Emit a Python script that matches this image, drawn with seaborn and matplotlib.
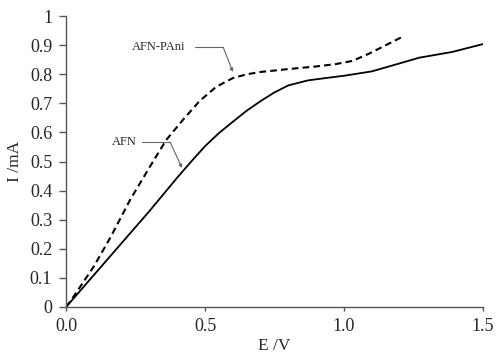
import matplotlib
matplotlib.use("Agg")
import matplotlib.pyplot as plt
import seaborn as sns
import pandas as pd

# AFN (solid)
afn_E = [0.0, 0.1, 0.2, 0.3, 0.4, 0.45, 0.5, 0.55, 0.6, 0.65, 0.7, 0.75, 0.8, 0.87, 0.95,
         1.0, 1.1, 1.18, 1.27, 1.39, 1.5]
afn_I = [0.0, 0.11, 0.22, 0.33, 0.445, 0.50, 0.553, 0.598, 0.637, 0.675, 0.708, 0.738, 0.762,
         0.779, 0.789, 0.795, 0.81, 0.832, 0.857, 0.877, 0.904]
# AFN-PAni (dashed)
pani_E = [0.0, 0.03, 0.1, 0.16, 0.23, 0.3, 0.36, 0.42, 0.48, 0.54, 0.6, 0.65, 0.7, 0.8, 0.9,
          0.97, 1.03, 1.09, 1.15, 1.21]
pani_I = [0.0, 0.04, 0.14, 0.24, 0.368, 0.48, 0.574, 0.643, 0.708, 0.757, 0.787, 0.800, 0.808,
          0.818, 0.827, 0.835, 0.846, 0.871, 0.90, 0.929]

x_ticks = [0.0, 0.5, 1.0, 1.5]
x_tick_labels = ["0.0", "0.5", "1.0", "1.5"]
y_ticks = [0, 0.1, 0.2, 0.3, 0.4, 0.5, 0.6, 0.7, 0.8, 0.9, 1]
y_tick_labels = ["0", "0.1", "0.2", "0.3", "0.4", "0.5", "0.6", "0.7", "0.8", "0.9", "1"]

sns.set_theme(style="ticks")
plt.rcParams["font.family"] = ["Liberation Serif", "DejaVu Serif"]

fig = plt.figure(figsize=(4.97, 3.58), dpi=100)
ax = fig.add_axes([0.133, 0.1425, 0.839, 0.8125])

df_afn = pd.DataFrame({"E": afn_E, "I": afn_I})
df_pani = pd.DataFrame({"E": pani_E, "I": pani_I})

sns.lineplot(data=df_afn, x="E", y="I", ax=ax, color="black", linewidth=1.3)
sns.lineplot(data=df_pani, x="E", y="I", ax=ax, color="black", linewidth=1.5,
             linestyle=(0, (3.2, 2.0)))

ax.set_xlim(0, 1.5)
ax.set_ylim(0, 1)
ax.set_xticks(x_ticks)
ax.set_xticklabels(x_tick_labels)
ax.set_yticks(y_ticks)
ax.set_yticklabels(y_tick_labels)
ax.tick_params(axis="x", labelsize=13, length=3, width=1, color="#555555", direction="out", pad=5)
ax.tick_params(axis="y", labelsize=13, length=5, width=1, color="#555555", direction="out", pad=5)
for s in ["left", "bottom"]:
    ax.spines[s].set_color("#555555")
    ax.spines[s].set_linewidth(1.0)
ax.spines["top"].set_visible(False)
ax.spines["right"].set_visible(False)
ax.set_xlabel("E /V", fontsize=12.5, labelpad=2)
ax.set_ylabel("I /mA", fontsize=12.5, labelpad=5)

ann_color = "#666666"
# AFN-PAni callout
ax.plot([0.464, 0.565], [0.893, 0.893], color=ann_color, linewidth=0.8)
ax.annotate("", xy=(0.60, 0.808), xytext=(0.565, 0.893),
            arrowprops=dict(arrowstyle="-|>", color=ann_color, lw=0.8, mutation_scale=5,
                            shrinkA=0, shrinkB=0))
ax.text(0.237, 0.893, "AFN-PAni", fontsize=9, ha="left", va="center")

# AFN callout
ax.plot([0.273, 0.374], [0.567, 0.567], color=ann_color, linewidth=0.8)
ax.annotate("", xy=(0.417, 0.478), xytext=(0.374, 0.567),
            arrowprops=dict(arrowstyle="-|>", color=ann_color, lw=0.8, mutation_scale=5,
                            shrinkA=0, shrinkB=0))
ax.text(0.163, 0.567, "AFN", fontsize=9, ha="left", va="center")

fig.savefig("out.png", dpi=100)
